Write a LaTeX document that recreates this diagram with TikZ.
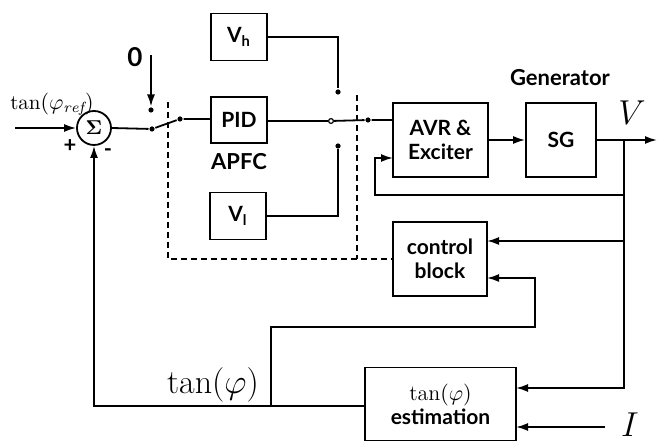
\documentclass[tikz,border=0pt]{standalone}
\usepackage{amsmath,amssymb}
\usepackage{fontspec}
\setsansfont{Lato}
\usetikzlibrary{arrows.meta,positioning}

\begin{document}
\begin{tikzpicture}[
    x=0.5pt, y=-0.5pt,
    >={Latex[length=6pt,width=4pt]},
    line width=0.9pt,
    block/.style={rectangle, draw=black, inner sep=0pt, align=center, font=\sffamily\bfseries\fontsize{10.5}{12}\selectfont},
    summer/.style={circle, draw=black, minimum size=17pt, inner sep=0pt},
    dot/.style={circle, fill=black, minimum size=2.6pt, inner sep=0pt},
    opendot/.style={circle, draw=black, line width=0.6pt, minimum size=2.4pt, inner sep=0pt},
    lbl/.style={font=\sffamily\bfseries\fontsize{11}{13}\selectfont, inner sep=1pt},
    sig/.style={font=\fontsize{17}{20}\selectfont, inner sep=1pt},
    boxline/.style={dash pattern=on 3pt off 2pt, line width=0.7pt}
]
    \useasboundingbox (0,0) rectangle (668,442);

    % blocks
    \node[summer] (sum) at (94,128) {$\boldsymbol{\Sigma}$};
    \node[block, minimum width=28pt, minimum height=23.5pt] (vh) at (239,37) {V\textsubscript{h}};
    \node[block, minimum width=28pt, minimum height=23pt] (pid) at (239,120) {PID};
    \node[block, minimum width=28pt, minimum height=23.5pt] (vl) at (238,216) {V\textsubscript{l}};
    \node[block, minimum width=47.5pt, minimum height=37pt] (avr) at (440.5,140) {AVR \&\\Exciter};
    \node[block, minimum width=35pt, minimum height=37pt] (sg) at (561,140) {SG};
    \node[block, minimum width=47pt, minimum height=37pt] (ctrl) at (440,259) {control\\block};
    \node[block, minimum width=75.5pt, minimum height=36.5pt] (est) at (440.5,404) {{\mdseries\rmfamily\fontsize{11}{13}\selectfont$\tan(\varphi)$}\\estimation};

    % labels
    \node[font=\fontsize{10.5}{12}\selectfont] (ref) at (52,104) {$\tan(\varphi_{\mathit{ref}})$};
    \node[lbl] (plus) at (70,146) {+};
    \node[lbl] (minus) at (108,153) {-};
    \node[lbl, font=\sffamily\bfseries\fontsize{13}{15}\selectfont] (zero) at (135,57) {0};
    \node[lbl] (apfc) at (239,162) {APFC};
    \node[lbl] (gen) at (560,78) {Generator};
    \node[sig] (vout) at (632,113) {$V$};
    \node[sig] (iin) at (630,425) {$I$};
    \node[sig] (tanphi) at (213,385) {$\tan(\varphi)$};

    % switch terminals and junctions
    \node[dot] (sa) at (151,110) {};
    \node[dot] (sp) at (152,129) {};
    \node[dot] (sb) at (180,119) {};
    \node[dot] (th) at (338,92) {};
    \node[dot] (tl) at (338,146) {};
    \node[opendot] (tp) at (331,121) {};
    \node[dot] (tc) at (368,120) {};
    \coordinate (in) at (15,128);
    \coordinate (zt) at (151,55);
    \coordinate (br) at (624,140);
    \coordinate (out) at (657,140);
    \coordinate (fbl) at (375,195);
    \coordinate (avrin) at (393,158);
    \coordinate (cin1) at (487,241);
    \coordinate (cin2) at (487,278);
    \coordinate (cb) at (535,327);
    \coordinate (ein1) at (516,388);
    \coordinate (ein2) at (516,427);
    \coordinate (ist) at (605,427);
    \coordinate (jt) at (271,406);
    \coordinate (eout) at (365,406);
    \coordinate (dl) at (168,102);
    \coordinate (dr) at (357,95);

    % forward path
    \draw[->] (in) -- (sum.west);
    \draw (sum.east) -- (sp);
    \draw[->] (zt) -- (sa);
    \draw (sp) -- (sb) -- (pid.west |- sb);
    \draw (vh.east) -| (th);
    \draw (vl.east) -| (tl);
    \draw (pid.east |- tp) -- (tp);
    \draw (tp) -- (tc) -- (tc -| avr.west);
    \draw[->] (avr.east) -- (sg.west);
    \draw[->] (sg.east) -- (out);

    % feedback paths
    \draw[->] (br) |- (fbl) |- (avrin);
    \draw[->] (br) |- (ein1);
    \draw[->] (br |- cin1) -- (cin1);
    \draw[->] (ist) -- (ein2);
    \draw[->] (eout) -| (sum.south);
    \draw[->] (jt) |- (cb) |- (cin2);

    % APFC frame
    \draw[boxline] (dl) |- (ctrl.west);
    \draw[boxline] (dr) -- (dr |- ctrl.west);
\end{tikzpicture}
\end{document}
